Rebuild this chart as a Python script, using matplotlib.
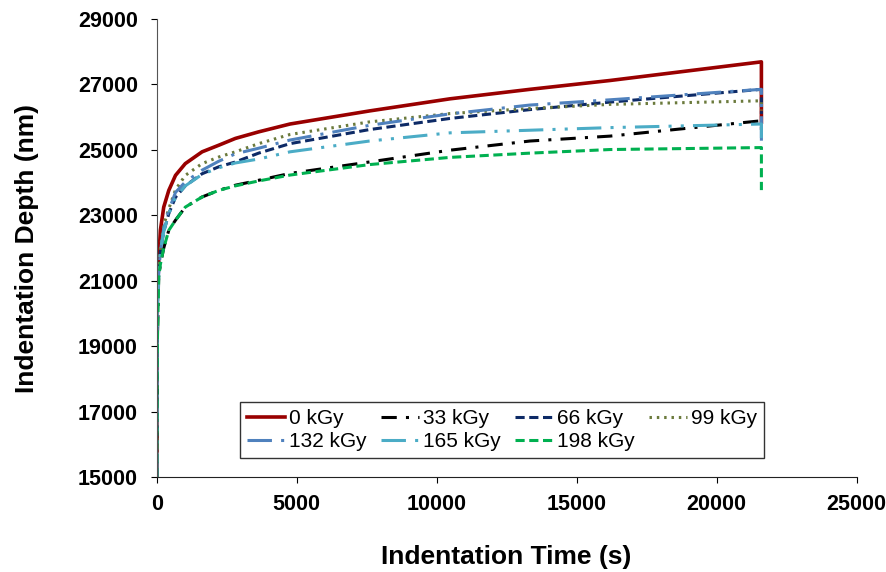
import matplotlib
matplotlib.use('Agg')
from matplotlib import pyplot as plt

plt.rcParams['font.family'] = ['Liberation Sans', 'DejaVu Sans']

# indentation time (s) - last point repeated for the unloading drop
times = [0, 20, 70, 130, 250, 430, 670, 1020, 1620, 2210, 2810, 3640, 4760,
         7600, 10475, 13330, 16190, 21600, 21600]

depth_0 = [15000, 20500, 21600, 22540, 23250, 23760, 24220, 24580, 24940, 25140,
           25350, 25550, 25790, 26190, 26560, 26850, 27120, 27690, 25850]
depth_33 = [15000, 19000, 21100, 21500, 22000, 22540, 22850, 23250, 23560, 23760,
            23920, 24070, 24280, 24630, 24990, 25270, 25420, 25890, 25600]
depth_66 = [15000, 20000, 21200, 21900, 22500, 23050, 23550, 23900, 24270, 24480,
            24630, 24900, 25190, 25620, 25960, 26230, 26460, 26850, 26100]
depth_99 = [15000, 20000, 21300, 22000, 22700, 23200, 23780, 24220, 24580, 24780,
            24940, 25190, 25470, 25855, 26110, 26265, 26390, 26500, 26200]
depth_132 = [15000, 20000, 21200, 21900, 22600, 23150, 23700, 24020, 24380, 24650,
             24880, 25050, 25300, 25750, 26100, 26370, 26530, 26850, 25000]
depth_165 = [15000, 20000, 21200, 21900, 22500, 23050, 23550, 23900, 24250, 24450,
             24600, 24720, 24940, 25270, 25520, 25600, 25680, 25790, 25000]
depth_198 = [15000, 19000, 21100, 21500, 22000, 22540, 22850, 23250, 23560, 23760,
             23900, 24050, 24230, 24550, 24770, 24900, 25010, 25070, 23770]

labels = ['0 kGy', '33 kGy', '66 kGy', '99 kGy', '132 kGy', '165 kGy', '198 kGy']

fig = plt.figure(figsize=(8.87, 5.72), dpi=100)
ax = fig.add_axes([0.1767, 0.166, 0.789, 0.8008])

lines = []
lines += ax.plot(times, depth_0, c='#990000', lw=2.6)
lines += ax.plot(times, depth_33, c='black', lw=2.2, dashes=(5, 3, 1, 3))
lines += ax.plot(times, depth_66, c='#0D2A66', lw=2.2, dashes=(3, 1.5))
lines += ax.plot(times, depth_99, c='#6B7A3C', lw=2.2, dashes=(0.8, 1.6))
lines += ax.plot(times, depth_132, c='#4F81BD', lw=2.2, dashes=(8, 3, 1, 3))
lines += ax.plot(times, depth_165, c='#4BACC6', lw=2.2, dashes=(8, 3, 1, 3, 1, 3))
lines += ax.plot(times, depth_198, c='#00B050', lw=2.2, dashes=(3, 1.5))

ax.set_xlim(0, 25000)
ax.set_ylim(15000, 29000)
ax.set_xticks(range(0, 25001, 5000))
ax.set_yticks(range(15000, 29001, 2000))
ax.spines['top'].set_visible(False)
ax.spines['right'].set_visible(False)
ax.spines['left'].set_color('#555555')
ax.spines['bottom'].set_color('#222222')
ax.tick_params(axis='both', which='major', labelsize=15.5, length=4.5, direction='out')
ax.tick_params(axis='y', pad=9)
ax.tick_params(axis='x', pad=8)
for lab in ax.get_xticklabels() + ax.get_yticklabels():
    lab.set_fontweight('bold')

ax.set_xlabel('Indentation Time (s)', fontsize=19, fontweight='bold', labelpad=21)
ax.set_ylabel('Indentation Depth (nm)', fontsize=19, fontweight='bold', labelpad=28)

# row-major order for a 4-column legend
order = [0, 4, 1, 5, 2, 6, 3]
leg = ax.legend([lines[i] for i in order], [labels[i] for i in order],
                ncol=4, loc='lower left', bbox_to_anchor=(0.119, 0.041),
                fontsize=15, fancybox=False, edgecolor='#333333', framealpha=1,
                handlelength=1.8, handletextpad=0.2, columnspacing=0.7,
                borderpad=0.35, labelspacing=0.2, borderaxespad=0)
leg.get_frame().set_linewidth(1.0)

fig.savefig('out.png', dpi=100)
